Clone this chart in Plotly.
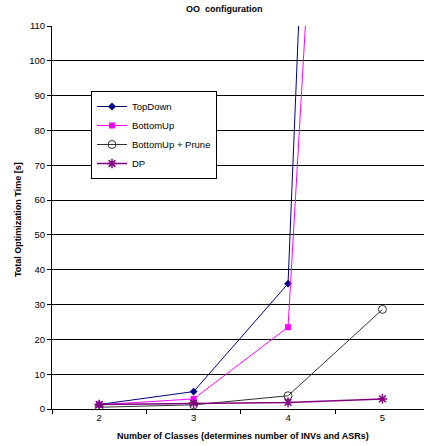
import plotly.graph_objects as go

classes = [2, 3, 4, 5]
topdown = [1.3, 5.0, 36.0, 700.0]
bottomup = [1.2, 2.9, 23.5, 495.0]
bottomup_prune = [0.5, 1.2, 3.8, 28.6]
dp = [1.3, 1.7, 1.9, 2.9]

FONT = "Liberation Sans, Arial, sans-serif"

# plot area in window pixels
PL, PR, PT, PB = 52, 424, 26, 409
PW, PH = PR - PL, PB - PT


def px(x):
    return (x - PL) / PW


def py(y):
    return (PB - y) / PH


fig = go.Figure()
fig.add_trace(go.Scatter(x=classes, y=topdown, name="TopDown", mode="lines+markers",
                         line=dict(color="#000080", width=1),
                         marker=dict(symbol="diamond", size=6, color="#000080")))
fig.add_trace(go.Scatter(x=classes, y=bottomup, name="BottomUp", mode="lines+markers",
                         line=dict(color="#FF00FF", width=1),
                         marker=dict(symbol="square", size=6, color="#FF00FF")))
fig.add_trace(go.Scatter(x=classes, y=bottomup_prune, name="BottomUp + Prune", mode="lines+markers",
                         line=dict(color="#333333", width=1),
                         marker=dict(symbol="circle-open", size=8, color="#333333", line=dict(width=1))))
fig.add_trace(go.Scatter(x=classes, y=dp, name="DP", mode="lines+markers",
                         line=dict(color="#800080", width=1.5),
                         marker=dict(symbol="asterisk-open", size=8, color="#800080",
                                     line=dict(width=1.5, color="#800080"))))

fig.update_layout(
    width=424, height=446,
    margin=dict(l=PL, r=424 - PR, t=PT, b=446 - PB, autoexpand=False),
    paper_bgcolor="white", plot_bgcolor="white",
    font=dict(family=FONT, size=9, color="black"),
    showlegend=True,
    hovermode=False,
    legend=dict(x=px(91), y=py(91), xanchor="left", yanchor="top",
                bgcolor="white", bordercolor="black", borderwidth=1,
                font=dict(family=FONT, size=9.5, color="black"),
                itemwidth=30, tracegroupgap=0),
    annotations=[
        dict(text="<b>OO  configuration</b>", x=px(224), y=py(9.5), xref="paper", yref="paper",
             xanchor="center", yanchor="middle",
             showarrow=False, font=dict(family=FONT, size=9)),
        dict(text="<b>Number of Classes (determines number of INVs and ASRs)</b>",
             x=px(243), y=py(436), xref="paper", yref="paper",
             xanchor="center", yanchor="middle",
             showarrow=False, font=dict(family=FONT, size=9)),
        dict(text="<b>Total Optimization Time [s]</b>",
             x=px(18), y=py(220), xref="paper", yref="paper",
             xanchor="center", yanchor="middle",
             showarrow=False, textangle=-90, font=dict(family=FONT, size=9)),
    ],
)

fig.update_xaxes(range=[1.5, 5.44], tickmode="array", tickvals=classes,
                 ticktext=[str(c) for c in classes], ticks="", showgrid=False,
                 showline=True, linecolor="black", linewidth=1, zeroline=False,
                 automargin=False, tickfont=dict(family=FONT, size=9.5),
                 minor=dict(tick0=1.5, dtick=1, ticks="outside", ticklen=4,
                            tickcolor="black", showgrid=False))
fig.update_yaxes(range=[0, 110], tickmode="linear", tick0=0, dtick=10,
                 showgrid=True, gridcolor="black", gridwidth=1,
                 showline=True, linecolor="black", linewidth=1, zeroline=False,
                 automargin=False, ticks="outside", ticklen=4, tickcolor="black",
                 tickfont=dict(family=FONT, size=9.5))

fig.write_html("out.html",
               config={"displayModeBar": False, "staticPlot": True},
               post_script="document.body.style.margin='0';document.body.style.padding='0';"
                           "document.body.style.overflow='hidden';")
